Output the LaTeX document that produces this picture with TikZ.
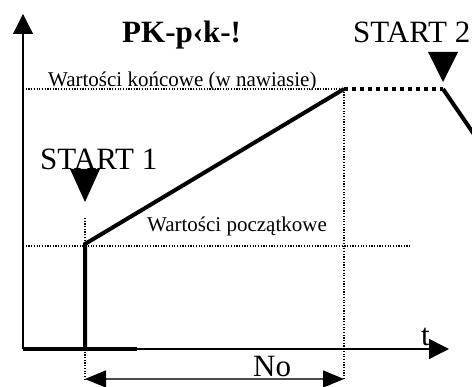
\documentclass[tikz,border=0pt]{standalone}
\usepackage{fontspec}
\setmainfont{Liberation Serif}
\usetikzlibrary{arrows.meta}

\begin{document}
\begin{tikzpicture}[x=1pt,y=-1pt,
  axis/.style={line width=1.3pt, -{Triangle[length=20pt,width=20pt]}},
  signal/.style={line width=4pt, line join=miter},
  signaldash/.style={line width=4pt, dash pattern=on 4pt off 4pt},
  guide/.style={line width=1.2pt, dash pattern=on 1.2pt off 1.5pt},
  marker/.style={fill=black, draw=none},
  span/.style={line width=1.3pt, draw=black!70,
    {Triangle[length=21pt,width=17pt,fill=black,color=black]}-{Triangle[length=21pt,width=17pt,fill=black,color=black]}},
  big/.style={inner sep=0pt, anchor=base west, font=\fontsize{31}{31}\selectfont},
  small/.style={inner sep=0pt, anchor=base west, font=\fontsize{21}{21}\selectfont}]
\useasboundingbox (0,0) rectangle (472,387);
\clip (0,0) rectangle (472,387);

% key points of the time chart
\coordinate (O) at (23,349);
\coordinate (Ytop) at (23,14);
\coordinate (Xend) at (449,349);
\coordinate (Lowend) at (137,349);
\coordinate (S1) at (85,349);
\coordinate (S1up) at (85,244);
\coordinate (E) at (344,89);
\coordinate (F) at (443,89);
\coordinate (G) at (480,143);
\coordinate (Kleft) at (23,89);
\coordinate (Pleft) at (23,246);
\coordinate (Pright) at (411,246);
\coordinate (Ebot) at (344,380);
\coordinate (S1mark) at (85,218);
\coordinate (S1bot) at (85,380);
\coordinate (NoL) at (85,379);
\coordinate (NoR) at (344,379);

% guide lines
\draw[guide] (Kleft) -- (E);
\draw[guide] (Pleft) -- (Pright);
\draw[guide] (E) -- (Ebot);
\draw[guide] (S1mark) -- (S1up);
\draw[guide] (S1) -- (S1bot);

% axes
\draw[axis] (O) -- (Ytop);
\draw[axis] (O) -- (Xend);

% signal
\draw[signal] (O) -- (Lowend);
\draw[signal] (S1) -- (S1up) -- (E);
\draw[signaldash] (E) -- (F);
\draw[signal] (F) -- (G);

% start markers
\fill[marker] (70,169) -- (100,169) -- (85,202) -- cycle;
\fill[marker] (428,52) -- (458,52) -- (443,82) -- cycle;

% duration arrow
\draw[span] (NoL) -- (NoR);

% labels
\node[big, font=\fontsize{31}{31}\selectfont\bfseries] (title) at (122,43) {PK-p‹k-!};
\node[big] (start1) at (40,170) {START 1};
\node[big] (start2) at (353,43) {START 2};
\node[small] (konc) at (48,87) {Wartości końcowe (w nawiasie)};
\node[small] (pocz) at (147,232) {Wartości początkowe};
\node[big] (no) at (253,377) {No};
\node[big] (t) at (421,346) {t};
\end{tikzpicture}
\end{document}
